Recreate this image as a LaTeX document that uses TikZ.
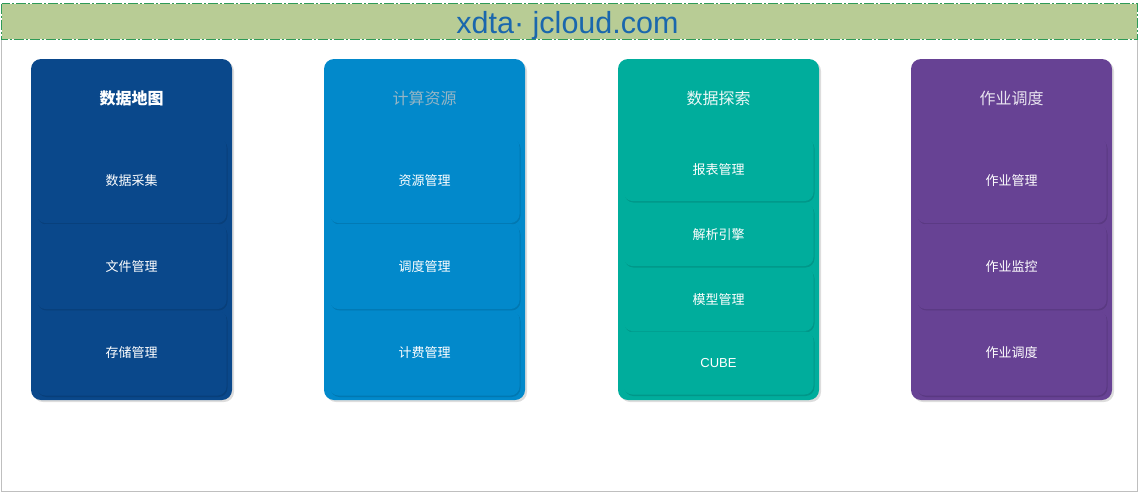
\documentclass[tikz,border=0pt]{standalone}
\usepackage{fontspec}
\setmainfont{Liberation Sans}
\newfontfamily\cjk{Noto Sans CJK SC}
\usetikzlibrary{shadows}

\definecolor{bandgreen}{HTML}{B8CC95}
\definecolor{bandline}{HTML}{2E9A58}
\definecolor{urlblue}{HTML}{1A67AD}
\definecolor{mapblue}{HTML}{0A488B}
\definecolor{calcblue}{HTML}{0289CB}
\definecolor{seeteal}{HTML}{00AD9C}
\definecolor{jobpurple}{HTML}{674294}

\tikzset{
  card/.style={rounded corners=10pt, minimum width=201pt, minimum height=341pt, inner sep=0pt,
    drop shadow={shadow xshift=2pt, shadow yshift=-2pt, fill=gray!45, opacity=.6}},
  item/.style={rounded corners=9pt, minimum width=190pt, inner sep=0pt, text=white,
    font=\cjk\fontsize{13}{15}\selectfont,
    drop shadow={shadow xshift=1pt, shadow yshift=-1.5pt, fill=black, opacity=.12}},
  title/.style={font=\cjk\fontsize{16}{19}\selectfont}
}

\begin{document}
\begin{tikzpicture}[x=1pt, y=-1pt]

  \useasboundingbox (0,0) rectangle (1139,493);

  % Frame and header
  \draw[gray!50, line width=1pt] (1.5,3.5) rectangle (1137.5,491.5);
  \draw[fill=bandgreen, draw=white, line width=1pt] (1.5,3.5) rectangle (1137.5,39.5);
  \draw[draw=bandline, line width=1pt, dash pattern=on 10pt off 2pt on 2pt off 2pt]
    (1.5,3.5) rectangle (1137.5,39.5);
  \node[anchor=base, text=urlblue, font=\fontsize{30.5}{34}\selectfont, inner sep=0pt] (url) at (567.5,33) {xdta· jcloud.com};

  % Data map
  \node[card, fill=mapblue] (map) at (131.5,229.5) {};
  \node[title, text=white, font=\cjk\bfseries\fontsize{16}{19}\selectfont] (maptitle) at (map.center |- 0,98) {数据地图};
  \node[item, fill=mapblue, minimum height=85pt] (map1) at (131.5,180.5) {数据采集};
  \node[item, fill=mapblue, minimum height=85pt] (map2) at (131.5,266.5) {文件管理};
  \node[item, fill=mapblue, minimum height=85pt] (map3) at (131.5,353) {存储管理};

  % Compute resources
  \node[card, fill=calcblue] (calc) at (424.5,229.5) {};
  \node[title, text=calcblue!40!gray!60] (calctitle) at (calc.center |- 0,98) {计算资源};
  \node[item, fill=calcblue, minimum height=85pt] (calc1) at (424.5,180.5) {资源管理};
  \node[item, fill=calcblue, minimum height=85pt] (calc2) at (424.5,266.5) {调度管理};
  \node[item, fill=calcblue, minimum height=85pt] (calc3) at (424.5,353) {计费管理};

  % Data exploration
  \node[card, fill=seeteal] (see) at (718.5,229.5) {};
  \node[title, text=white!92!seeteal] (seetitle) at (see.center |- 0,98) {数据探索};
  \node[item, fill=seeteal, minimum height=63pt] (see1) at (718.5,169.5) {报表管理};
  \node[item, fill=seeteal, minimum height=63pt] (see2) at (718.5,234.5) {解析引擎};
  \node[item, fill=seeteal, minimum height=63pt] (see3) at (718.5,299.5) {模型管理};
  \node[item, fill=seeteal, minimum height=63pt, font=\fontsize{13}{15}\selectfont] (see4) at (718.5,363) {CUBE};

  % Job scheduling
  \node[card, fill=jobpurple] (job) at (1011.5,229.5) {};
  \node[title, text=white!85!jobpurple] (jobtitle) at (job.center |- 0,98) {作业调度};
  \node[item, fill=jobpurple, minimum height=85pt] (job1) at (1011.5,180.5) {作业管理};
  \node[item, fill=jobpurple, minimum height=85pt] (job2) at (1011.5,266.5) {作业监控};
  \node[item, fill=jobpurple, minimum height=85pt] (job3) at (1011.5,353) {作业调度};

\end{tikzpicture}
\end{document}
